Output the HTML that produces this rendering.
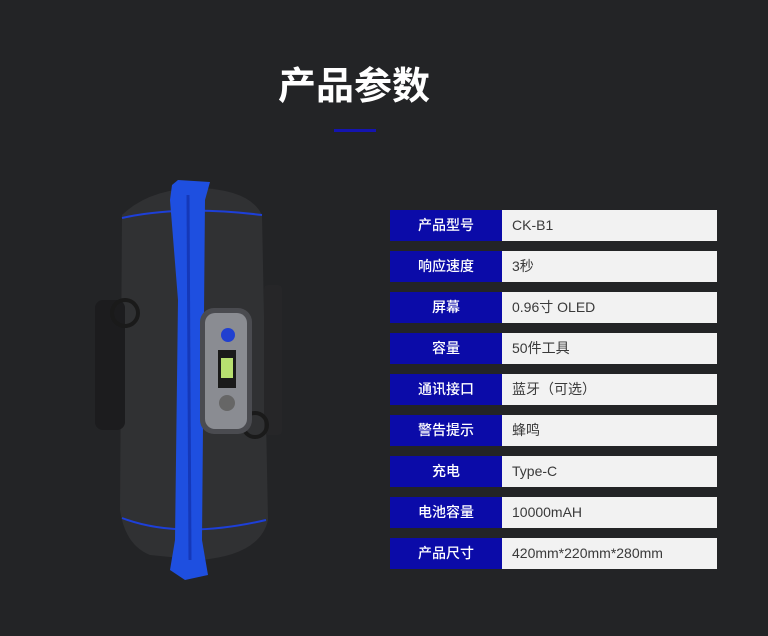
<!DOCTYPE html>
<html><head><meta charset="utf-8"><style>
body{margin:0;width:768px;height:636px;background:#232426;position:relative;overflow:hidden;font-family:"Liberation Sans","Noto Sans CJK SC",sans-serif}
.t{position:absolute;top:64px;text-align:center;color:#fff;font-size:38px;font-weight:bold;line-height:46px}
.ul{position:absolute;left:334px;top:129px;width:42px;height:3px;background:#1414b0}
.r{position:absolute;left:390px;width:327px;height:31px}
.l{position:absolute;left:0;top:0;width:112px;height:31px;background:#0b0ba8;color:#fff;font-size:14px;line-height:31px;text-align:center;font-weight:500}
.v{position:absolute;left:112px;top:0;width:215px;height:31px;background:#f2f2f2;color:#3a3a3a;font-size:14px;line-height:31px;padding-left:10px;box-sizing:border-box}
</style></head><body>
<div class="t" style="left:0;width:708px">产品参数</div>
<div class="ul"></div>
<svg style="position:absolute;left:0;top:0" width="768" height="636">
<path d="M122 215 Q150 188 200 188 Q250 190 262 215 L268 520 Q260 555 200 560 L150 555 Q125 545 120 510 Z" fill="#303133"/>
<path d="M122 218 Q180 205 262 215" stroke="#1d3fd8" stroke-width="2" fill="none"/>
<path d="M122 518 Q180 540 266 520" stroke="#1d3fd8" stroke-width="2" fill="none"/>
<rect x="95" y="300" width="30" height="130" rx="8" fill="#1c1c1e"/>
<circle cx="125" cy="313" r="13" stroke="#1a1a1a" stroke-width="4" fill="none"/>
<rect x="264" y="285" width="18" height="150" rx="4" fill="#262628"/>
<circle cx="255" cy="425" r="12" stroke="#1a1a1a" stroke-width="4" fill="none"/>
<path d="M172 185 L178 180 L210 182 L205 200 L202 540 L208 575 L185 580 L170 570 L175 540 L178 300 L170 200 Z" fill="#1e4fe0"/>
<path d="M188 195 L190 560" stroke="#1538b8" stroke-width="3"/>
<rect x="200" y="308" width="52" height="126" rx="14" fill="#4a4b50"/>
<rect x="205" y="313" width="42" height="116" rx="10" fill="#8a8c92"/>
<circle cx="228" cy="335" r="7" fill="#2040d0"/>
<rect x="218" y="350" width="18" height="38" fill="#1a1a1a"/>
<rect x="221" y="358" width="12" height="20" fill="#b8e070"/>
<circle cx="227" cy="403" r="8" fill="#666"/>
</svg>
<div class="r" style="top:210px"><div class="l">产品型号</div><div class="v">CK-B1</div></div>
<div class="r" style="top:251px"><div class="l">响应速度</div><div class="v">3秒</div></div>
<div class="r" style="top:292px"><div class="l">屏幕</div><div class="v">0.96寸 OLED</div></div>
<div class="r" style="top:333px"><div class="l">容量</div><div class="v">50件工具</div></div>
<div class="r" style="top:374px"><div class="l">通讯接口</div><div class="v">蓝牙（可选）</div></div>
<div class="r" style="top:415px"><div class="l">警告提示</div><div class="v">蜂鸣</div></div>
<div class="r" style="top:456px"><div class="l">充电</div><div class="v">Type-C</div></div>
<div class="r" style="top:497px"><div class="l">电池容量</div><div class="v">10000mAH</div></div>
<div class="r" style="top:538px"><div class="l">产品尺寸</div><div class="v">420mm*220mm*280mm</div></div>
</body></html>
